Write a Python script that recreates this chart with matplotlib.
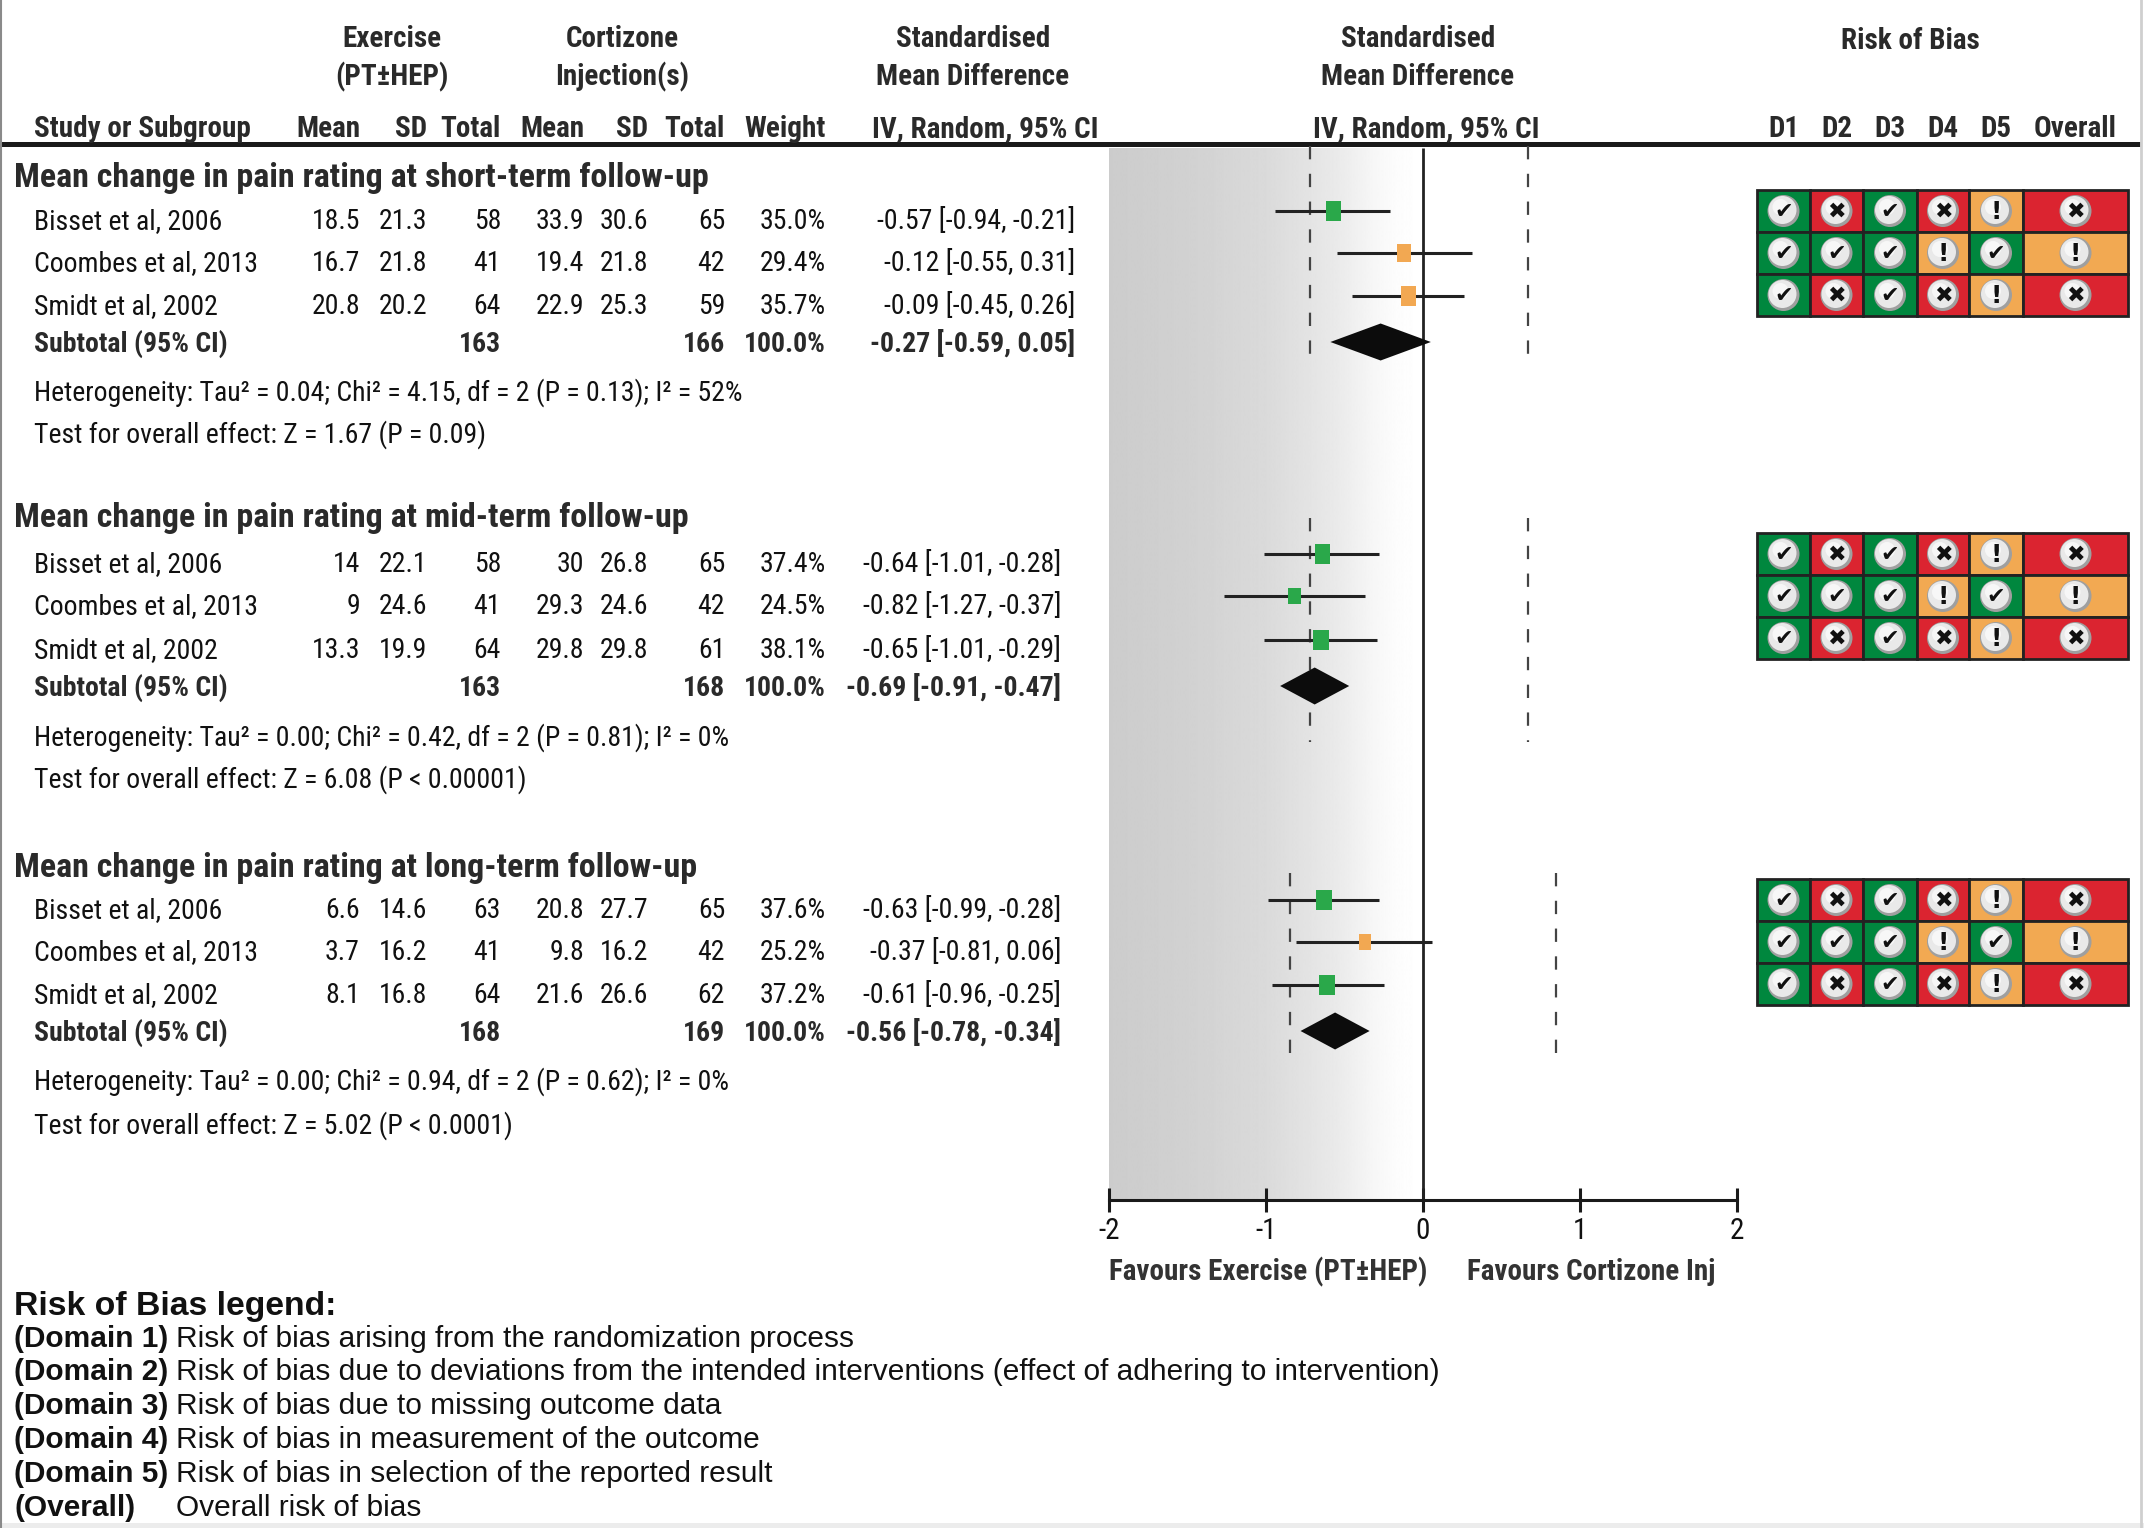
import numpy as np
import matplotlib
matplotlib.use("Agg")
import matplotlib.pyplot as plt
from matplotlib.patches import Rectangle, Polygon, Circle
from matplotlib import font_manager as fm

# ---------------- data ----------------
sections = ["Mean change in pain rating at short-term follow-up",
            "Mean change in pain rating at mid-term follow-up",
            "Mean change in pain rating at long-term follow-up"]
studies = ["Bisset et al, 2006", "Coombes et al, 2013", "Smidt et al, 2002"]

ex_mean = [[18.5, 16.7, 20.8], [14, 9, 13.3], [6.6, 3.7, 8.1]]
ex_sd = [[21.3, 21.8, 20.2], [22.1, 24.6, 19.9], [14.6, 16.2, 16.8]]
ex_n = [[58, 41, 64], [58, 41, 64], [63, 41, 64]]
inj_mean = [[33.9, 19.4, 22.9], [30, 29.3, 29.8], [20.8, 9.8, 21.6]]
inj_sd = [[30.6, 21.8, 25.3], [26.8, 24.6, 29.8], [27.7, 16.2, 26.6]]
inj_n = [[65, 42, 59], [65, 42, 61], [65, 42, 62]]
weights = [[35.0, 29.4, 35.7], [37.4, 24.5, 38.1], [37.6, 25.2, 37.2]]
smd = [[-0.57, -0.12, -0.09], [-0.64, -0.82, -0.65], [-0.63, -0.37, -0.61]]
smd_lo = [[-0.94, -0.55, -0.45], [-1.01, -1.27, -1.01], [-0.99, -0.81, -0.96]]
smd_hi = [[-0.21, 0.31, 0.26], [-0.28, -0.37, -0.29], [-0.28, 0.06, -0.25]]

sub_ex_n = [163, 163, 168]
sub_inj_n = [166, 168, 169]
sub_smd = [-0.27, -0.69, -0.56]
sub_lo = [-0.59, -0.91, -0.78]
sub_hi = [0.05, -0.47, -0.34]

heterogeneity = ["Heterogeneity: Tau\u00b2 = 0.04; Chi\u00b2 = 4.15, df = 2 (P = 0.13); I\u00b2 = 52%",
                 "Heterogeneity: Tau\u00b2 = 0.00; Chi\u00b2 = 0.42, df = 2 (P = 0.81); I\u00b2 = 0%",
                 "Heterogeneity: Tau\u00b2 = 0.00; Chi\u00b2 = 0.94, df = 2 (P = 0.62); I\u00b2 = 0%"]
overall_effect = ["Test for overall effect: Z = 1.67 (P = 0.09)",
                  "Test for overall effect: Z = 6.08 (P < 0.00001)",
                  "Test for overall effect: Z = 5.02 (P < 0.0001)"]

ref_lo = [-0.72, -0.72, -0.85]   # dashed reference lines
ref_hi = [0.67, 0.67, 0.85]

rob_domains = ["D1", "D2", "D3", "D4", "D5", "Overall"]
rob_bisset = ["low", "high", "low", "high", "some", "high"]
rob_coombes = ["low", "low", "low", "some", "low", "some"]
rob_smidt = ["low", "high", "low", "high", "some", "high"]
rob = [rob_bisset, rob_coombes, rob_smidt]

x_ticks = [-2, -1, 0, 1, 2]
favours_left = "Favours Exercise (PT\u00b1HEP)"
favours_right = "Favours Cortizone Inj"

legend_keys = ["(Domain 1)", "(Domain 2)", "(Domain 3)", "(Domain 4)", "(Domain 5)", "(Overall)"]
legend_texts = ["Risk of bias arising from the randomization process",
                "Risk of bias due to deviations from the intended interventions (effect of adhering to intervention)",
                "Risk of bias due to missing outcome data",
                "Risk of bias in measurement of the outcome",
                "Risk of bias in selection of the reported result",
                "Overall risk of bias"]

# ---------------- fonts ----------------
names = {f.name for f in fm.fontManager.ttflist}
narrow = None
for n in ["Liberation Sans Narrow", "Arial Narrow", "Roboto Condensed", "Open Sans Condensed"]:
    if n in names:
        narrow = n
        break
if narrow is None:
    NF = ["Liberation Sans", "DejaVu Sans"]
    fs = 0.82
else:
    NF = [narrow, "DejaVu Sans"]
    fs = 1.0
REG = ["Liberation Sans", "DejaVu Sans"]

W, H = 2144, 1528
fig = plt.figure(figsize=(W / 100, H / 100), dpi=100)
fig.patch.set_facecolor("white")
ax = fig.add_axes([0, 0, 1, 1])
ax.set_xlim(0, W)
ax.set_ylim(H, 0)
ax.axis("off")

TXT = "#111111"
HDR = "#2a2a2a"

def t(x, y, s, size, bold=False, ha="left", fam=None, color=TXT):
    ax.text(x, y, s, fontsize=size, fontweight="bold" if bold else "normal",
            ha=ha, va="baseline", family=fam if fam is not None else NF, color=color)

B = 20 * fs     # body size
HS = 21 * fs    # header size
TS = 24.5 * fs  # section title

# ---- header ----
t(392, 47, "Exercise", HS, True, "center", color=HDR)
t(392, 85, "(PT\u00b1HEP)", HS, True, "center", color=HDR)
t(622, 47, "Cortizone", HS, True, "center", color=HDR)
t(622, 85, "Injection(s)", HS, True, "center", color=HDR)
t(973, 47, "Standardised", HS, True, "center", color=HDR)
t(973, 85, "Mean Difference", HS, True, "center", color=HDR)
t(1418, 47, "Standardised", HS, True, "center", color=HDR)
t(1418, 85, "Mean Difference", HS, True, "center", color=HDR)
t(1910, 49, "Risk of Bias", HS, True, "center", color=HDR)

col_right = [360, 427, 501, 584, 648, 725, 826]
col_names = ["Mean", "SD", "Total", "Mean", "SD", "Total", "Weight"]
hy = 137
t(34, hy, "Study or Subgroup", HS, True, color=HDR)
for xr, nm in zip(col_right, col_names):
    t(xr, hy, nm, HS, True, "right", color=HDR)
t(985, hy, "IV, Random, 95% CI", HS, True, "center", color=HDR)
t(1426, hy, "IV, Random, 95% CI", HS, True, "center", color=HDR)

grid_x = [1757, 1810, 1863, 1917, 1969, 2023, 2128]
for j, d in enumerate(rob_domains):
    t((grid_x[j] + grid_x[j + 1]) / 2, hy, d, HS, True, "center", color=HDR)

ax.plot([0, 2140], [143.5, 143.5], color="#1a1a1a", lw=3.6, solid_capstyle="butt")

# ---- layout (pixel rows) ----
title_y = [175, 515, 865]
row_y = [[219, 261, 304], [562, 604, 648], [908, 950, 993]]
sub_y = [342, 686, 1031]
het_y = [391, 736, 1080]
test_y = [433, 778, 1124]
ci_right = [1075, 1061, 1061]
dash_span = [(146, 367), (518, 742), (873, 1062)]
cap = 10.0

fmt = lambda v: f"{v:g}"

for i in range(3):
    t(14, title_y[i] + 12.5, sections[i], TS, True, color=HDR)
    for k in range(3):
        yb = row_y[i][k] + cap
        t(34, yb, studies[k], B)
        vals = [fmt(ex_mean[i][k]), fmt(ex_sd[i][k]), str(ex_n[i][k]),
                fmt(inj_mean[i][k]), fmt(inj_sd[i][k]), str(inj_n[i][k]),
                f"{weights[i][k]:.1f}%"]
        for xr, v in zip(col_right, vals):
            t(xr, yb, v, B, ha="right")
        t(ci_right[i], yb, f"{smd[i][k]:.2f} [{smd_lo[i][k]:.2f}, {smd_hi[i][k]:.2f}]", B, ha="right")
    yb = sub_y[i] + cap
    t(34, yb, "Subtotal (95% CI)", B, True, color=HDR)
    t(col_right[2], yb, str(sub_ex_n[i]), B, True, "right", color=HDR)
    t(col_right[5], yb, str(sub_inj_n[i]), B, True, "right", color=HDR)
    t(col_right[6], yb, "100.0%", B, True, "right", color=HDR)
    t(ci_right[i], yb, f"{sub_smd[i]:.2f} [{sub_lo[i]:.2f}, {sub_hi[i]:.2f}]", B, True, "right", color=HDR)
    t(34, het_y[i] + cap, heterogeneity[i], B)
    t(34, test_y[i] + cap, overall_effect[i], B)

# ---- risk of bias grid ----
rob_col = {"low": "#00873e", "high": "#db2430", "some": "#f2a952"}
rob_sym = {"low": "\u2714", "high": "\u2716", "some": "!"}
cell_h = 42
for i in range(3):
    mid = row_y[i][1] - 8
    top = mid - 1.5 * cell_h
    for k in range(3):
        y0 = top + k * cell_h
        for j in range(6):
            x0, x1 = grid_x[j], grid_x[j + 1]
            ax.add_patch(Rectangle((x0, y0), x1 - x0, cell_h, facecolor=rob_col[rob[k][j]],
                                   edgecolor="#222222", lw=2.0, zorder=2))
            cx, cy = (x0 + x1) / 2, y0 + cell_h / 2
            ax.add_patch(Circle((cx, cy), 16, facecolor="#9f9f9f", edgecolor="none", zorder=3))
            ax.add_patch(Circle((cx - 1, cy - 1), 14, facecolor="#e9e9e9", edgecolor="none", zorder=3))
            ax.add_patch(Circle((cx - 3, cy - 4), 8, facecolor="#f7f7f7", edgecolor="none", zorder=3))
            r = rob[k][j]
            ax.text(cx, cy + 1, rob_sym[r], fontsize=16 if r != "some" else 18,
                    fontweight="bold", ha="center", va="center",
                    family=["DejaVu Sans"], color="#111111", zorder=4)

# ---- legend ----
t(14, 1303 + 12, "Risk of Bias legend:", 24.3, True, fam=REG)
for k in range(6):
    yb = 1336 + 33.8 * k + 10.7
    t(14, yb, legend_keys[k], 21.5, True, fam=REG)
    t(176, yb, legend_texts[k], 21.5, False, fam=REG)

# frame
ax.plot([1, 1], [0, H], color="#8a8a8a", lw=1.5)
ax.plot([2140.5, 2140.5], [0, H], color="#cfcfcf", lw=2)
ax.add_patch(Rectangle((0, 1523), W, 5, facecolor="#ececec", edgecolor="none"))

# ---------------- forest axes ----------------
X0, X1 = 1109, 1737
axf = fig.add_axes([X0 / W, 0, (X1 - X0) / W, 1])
axf.patch.set_visible(False)
axis_y = 1200
grad_top = 148

tgrid = np.linspace(0, 1, 400)
g_t = [0.0, 0.25, 0.5, 0.72, 0.84, 0.92, 1.0]
g_v = [0.80, 0.82, 0.855, 0.915, 0.965, 0.99, 1.0]
img = np.tile(np.interp(tgrid, g_t, g_v), (2, 1))
axf.imshow(img, cmap="gray", vmin=0, vmax=1, extent=(-2, 0, axis_y, grad_top),
           aspect="auto", interpolation="bilinear", zorder=0)

axf.set_xlim(-2, 2)
axf.set_ylim(H, 0)
for sp in ["left", "right", "top"]:
    axf.spines[sp].set_visible(False)
axf.spines["bottom"].set_position(("data", axis_y))
axf.spines["bottom"].set_linewidth(2.2)
axf.spines["bottom"].set_color("#1a1a1a")
axf.set_yticks([])
axf.set_xticks(x_ticks)
axf.set_xticklabels([str(v) for v in x_ticks], family=NF, fontsize=21 * fs, color=TXT)
axf.tick_params(axis="x", direction="inout", length=17, width=2.2, color="#1a1a1a", pad=4)

axf.vlines(0, grad_top, axis_y, color="#222222", lw=2.0, zorder=2)

scale = (X1 - X0) / 4.0
green, orange = "#2aa84a", "#f2a852"
for i in range(3):
    y0, y1 = dash_span[i]
    axf.vlines([ref_lo[i], ref_hi[i]], y0, y1, colors="#444444", lw=1.6,
               linestyles=(0, (6, 6.5)), zorder=2)
    for k in range(3):
        y = row_y[i][k] - 8
        axf.hlines(y, smd_lo[i][k], smd_hi[i][k], color="#222222", lw=2.2, zorder=3)
        wpx = 15 * np.sqrt(weights[i][k] / 35.0)
        hpx = wpx * 1.33
        col = green if smd_hi[i][k] < 0 else orange
        axf.add_patch(Rectangle((smd[i][k] - wpx / scale / 2, y - hpx / 2), wpx / scale, hpx,
                                facecolor=col, edgecolor="none", zorder=4))
    ys = sub_y[i]
    axf.add_patch(Polygon([(sub_lo[i], ys), (sub_smd[i], ys - 18.5), (sub_hi[i], ys),
                           (sub_smd[i], ys + 18.5)], closed=True, facecolor="#0c0c0c",
                          edgecolor="none", zorder=4))

# favours labels
ax.text(1427, 1280, favours_left, fontsize=21 * fs, fontweight="bold", ha="right",
        va="baseline", family=NF, color="#333333")
ax.text(1467, 1280, favours_right, fontsize=21 * fs, fontweight="bold", ha="left",
        va="baseline", family=NF, color="#333333")

fig.savefig("out.png", dpi=100, facecolor="white")
